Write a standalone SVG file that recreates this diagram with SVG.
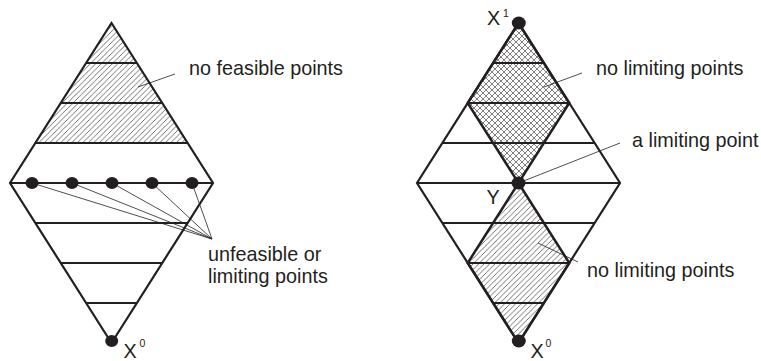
<svg xmlns="http://www.w3.org/2000/svg" width="761" height="361" viewBox="0 0 761 361">
<style>
.edge{fill:none;stroke:#231f20;stroke-width:2.2;stroke-linejoin:miter}
.inner{fill:none;stroke:#231f20;stroke-width:2.5}
.rung{stroke:#231f20;stroke-width:1.9}
.lead{stroke:#231f20;stroke-width:0.8;fill:none}
.dot{fill:#231f20}
text{font-family:"Liberation Sans",Arial,Helvetica,sans-serif;font-size:19.8px;fill:#231f20}
.sup{font-size:10.5px}
</style>
<defs>
<pattern id="hatch" patternUnits="userSpaceOnUse" width="5.5" height="5.5">
<path d="M-1,1 L1,-1 M0,5.5 L5.5,0 M4.5,6.5 L6.5,4.5" stroke="#444" stroke-width="0.75"/>
</pattern>
<pattern id="cross" patternUnits="userSpaceOnUse" width="6" height="6">
<path d="M-1,1 L1,-1 M0,6 L6,0 M5,7 L7,5 M-1,5 L1,7 M0,0 L6,6 M5,-1 L7,1" stroke="#555" stroke-width="0.75"/>
</pattern>
</defs>

<g id="left-diagram">
<polygon points="111.5,23 187.6,143 35.4,143" fill="url(#hatch)"/>
<polygon class="edge" points="111.5,23 213,183 111.5,343 10,183"/>
<line class="rung" x1="86.1" y1="63" x2="136.9" y2="63"/>
<line class="rung" x1="60.8" y1="103" x2="162.2" y2="103"/>
<line class="rung" x1="35.4" y1="143" x2="187.6" y2="143"/>
<line class="rung" x1="10" y1="183" x2="213" y2="183"/>
<line class="rung" x1="35.4" y1="223" x2="187.6" y2="223"/>
<line class="rung" x1="60.8" y1="263" x2="162.2" y2="263"/>
<line class="rung" x1="86.1" y1="303" x2="136.9" y2="303"/>
</g>

<g id="right-diagram">
<polygon points="518.5,23 569.3,103 518.5,183 467.7,103" fill="url(#cross)"/>
<polygon points="518.5,183 569.3,263 518.5,343 467.7,263" fill="url(#hatch)"/>
<polygon class="edge" points="518.5,23 620,183 518.5,343 417,183"/>
<line class="rung" x1="493.1" y1="63" x2="543.9" y2="63"/>
<line class="rung" x1="467.7" y1="103" x2="569.3" y2="103"/>
<line class="rung" x1="442.4" y1="143" x2="594.6" y2="143"/>
<line class="rung" x1="417" y1="183" x2="620" y2="183"/>
<line class="rung" x1="442.4" y1="223" x2="594.6" y2="223"/>
<line class="rung" x1="467.7" y1="263" x2="569.3" y2="263"/>
<line class="rung" x1="493.1" y1="303" x2="543.9" y2="303"/>
<polygon class="inner" points="518.5,23 569.3,103 518.5,183 467.7,103"/>
<polygon class="inner" points="518.5,183 569.3,263 518.5,343 467.7,263"/>
</g>

<g id="connectors">
<line class="lead" x1="175" y1="74" x2="138" y2="87"/>
<line class="lead" x1="32" y1="183" x2="212" y2="239"/>
<line class="lead" x1="72" y1="183" x2="212" y2="239"/>
<line class="lead" x1="112" y1="183" x2="212" y2="239"/>
<line class="lead" x1="152" y1="183" x2="212" y2="239"/>
<line class="lead" x1="192" y1="183" x2="212" y2="239"/>
<line class="lead" x1="582" y1="73" x2="544" y2="87"/>
<line class="lead" x1="518.5" y1="183" x2="620" y2="143"/>
<line class="lead" x1="538" y1="243" x2="578" y2="262"/>
</g>

<g id="left-points">
<ellipse class="dot" cx="32" cy="183" rx="6.5" ry="6"/>
<ellipse class="dot" cx="72" cy="183" rx="6.5" ry="6"/>
<ellipse class="dot" cx="112" cy="183" rx="6.5" ry="6"/>
<ellipse class="dot" cx="152" cy="183" rx="6.5" ry="6"/>
<ellipse class="dot" cx="192" cy="183" rx="6.5" ry="6"/>
</g>
<g id="node-X0-left">
<ellipse class="dot" cx="111.7" cy="341" rx="6.5" ry="6"/>
<text x="123.5" y="357.5">X</text><text class="sup" x="139.5" y="347">0</text>
</g>
<g id="node-X1">
<ellipse class="dot" cx="518.8" cy="23" rx="7" ry="6.5"/>
<text x="487" y="24.5">X</text><text class="sup" x="503" y="16.5">1</text>
</g>
<g id="node-Y">
<ellipse class="dot" cx="518.5" cy="183" rx="7" ry="6.5"/>
<text x="486.5" y="203.5">Y</text>
</g>
<g id="node-X0-right">
<ellipse class="dot" cx="518.8" cy="341" rx="7" ry="6.5"/>
<text x="530.5" y="357.5">X</text><text class="sup" x="545.5" y="347">0</text>
</g>

<g id="labels">
<text x="189" y="75">no feasible points</text>
<text x="208" y="261">unfeasible or</text>
<text x="208" y="283">limiting points</text>
<text x="596" y="75">no limiting points</text>
<text x="632" y="147">a limiting point</text>
<text x="587" y="277">no limiting points</text>
</g>
</svg>
